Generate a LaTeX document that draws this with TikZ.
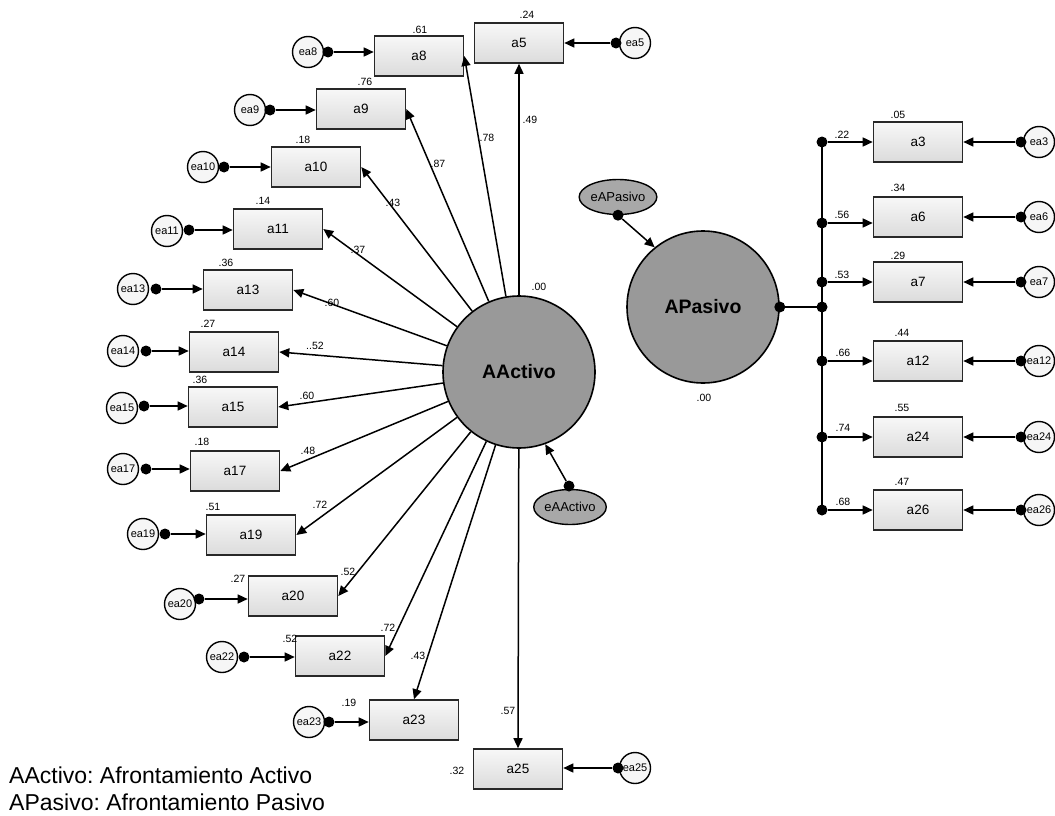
\documentclass[tikz,border=0pt]{standalone}
\usepackage{fontspec}
\setmainfont{Liberation Sans}
\usetikzlibrary{arrows.meta,shapes.geometric,calc}
\definecolor{latentgray}{RGB}{153,153,153}
\definecolor{errfill}{RGB}{246,246,246}
\definecolor{boxline}{RGB}{40,40,40}
\frenchspacing
\begin{document}
\begin{tikzpicture}[x=1pt,y=-1pt,
  obs/.style={draw=boxline, line width=1.6pt, minimum width=89pt, minimum height=40pt,
    inner sep=0pt, top color=white!97!black, bottom color=white!86!black,
    font=\fontsize{13.5}{14}\selectfont},
  err/.style={circle, draw=black, line width=1.4pt, fill=errfill, minimum size=31pt,
    inner sep=0pt, font=\fontsize{11}{12}\selectfont},
  lat/.style={circle, draw=black, line width=1.6pt, fill=latentgray, minimum size=152pt,
    inner sep=0pt, font=\bfseries\fontsize{19.5}{20}\selectfont},
  dist/.style={ellipse, draw=black, line width=1.4pt, fill=latentgray!85!white,
    minimum height=35pt, inner sep=0pt, font=\fontsize{13}{14}\selectfont},
  blob/.style={circle, fill=black, minimum size=11pt, inner sep=0pt},
  load/.style={-{Triangle[length=10pt,width=9pt]}, line width=1.5pt},
  coef/.style={font=\fontsize{10.5}{11}\selectfont, inner sep=0pt},
  legend/.style={anchor=base west, inner sep=0pt, font=\fontsize{23}{25}\selectfont},
]
\useasboundingbox (0,0) rectangle (1055,816);

% latent factors
\node[lat] (AA) at (519,372) {AActivo};
\node[lat] (AP) at (703,307) {APasivo};
\node[coef] (vAA) at (539,287) {.00};
\node[coef] (vAP) at (704,398) {.00};

% disturbances
\node[dist, minimum width=73pt] (eAP) at (618,197) {eAPasivo};
\node[dist, minimum width=64pt] (eAA) at (570,507) {eAActivo};
\node[blob] (deAP) at (eAP.south) {};
\node[blob] (deAA) at (569,486) {};
\draw[load] (deAP) -- (AP.129);
\draw[load] (deAA) -- (AA.-70);

% indicators of AActivo
\node[obs] (a5)  at (519,43)  {a5};
\node[obs] (a8)  at (419,56)  {a8};
\node[obs] (a9)  at (361,109) {a9};
\node[obs] (a10) at (316,167) {a10};
\node[obs] (a11) at (278,229) {a11};
\node[obs] (a13) at (248,290) {a13};
\node[obs] (a14) at (234,352) {a14};
\node[obs] (a15) at (233,407) {a15};
\node[obs] (a17) at (235,471) {a17};
\node[obs] (a19) at (251,535) {a19};
\node[obs] (a20) at (293,596) {a20};
\node[obs] (a22) at (340,656) {a22};
\node[obs] (a23) at (414,720) {a23};
\node[obs] (a25) at (518,769) {a25};

% loadings of AActivo
\draw[load] (AA) -- (a5.south);
\draw[load] (AA) -- (a8.east);
\draw[load] (AA) -- (a9.east);
\draw[load] (AA) -- (a10.east);
\draw[load] (AA) -- (a11.east);
\draw[load] (AA) -- (a13.east);
\draw[load] (AA) -- (a14.east);
\draw[load] (AA) -- (a15.east);
\draw[load] (AA) -- (a17.east);
\draw[load] (AA) -- (a19.east);
\draw[load] (AA) -- (a20.east);
\draw[load] (AA) -- (a22.east);
\draw[load] (AA) -- (a23.north);
\draw[load] (AA) -- (a25.north);

\node[coef] (l5)  at (530,120) {.49};
\node[coef] (l8)  at (487,138) {.78};
\node[coef] (l9)  at (438,164) {.87};
\node[coef] (l10) at (393,203) {.43};
\node[coef] (l11) at (358,250) {.37};
\node[coef] (l13) at (332,303) {.60};
\node[coef] (l14) at (315,346) {..52};
\node[coef] (l15) at (307,396) {.60};
\node[coef] (l17) at (308,451) {.48};
\node[coef] (l19) at (320,505) {.72};
\node[coef] (l20) at (348,572) {.52};
\node[coef] (l22) at (388,628) {.72};
\node[coef] (l23) at (418,656) {.43};
\node[coef] (l25) at (508,711) {.57};

% squared multiple correlations
\node[coef] (r5)  at (527,15)  {.24};
\node[coef] (r8)  at (420,30)  {.61};
\node[coef] (r9)  at (365,82)  {.76};
\node[coef] (r10) at (303,140) {.18};
\node[coef] (r11) at (263,201) {.14};
\node[coef] (r13) at (226,263) {.36};
\node[coef] (r14) at (208,324) {.27};
\node[coef] (r15) at (200,380) {.36};
\node[coef] (r17) at (202,442) {.18};
\node[coef] (r19) at (213,507) {.51};
\node[coef] (r20) at (238,579) {.27};
\node[coef] (r22) at (290,639) {.52};
\node[coef] (r23) at (349,703) {.19};
\node[coef] (r25) at (457,771) {.32};

% measurement errors, left side
\node[err] (ea8)  at (308,52)  {ea8};
\node[err] (ea9)  at (250,110) {ea9};
\node[err] (ea10) at (203,167) {ea10};
\node[err] (ea11) at (167,231) {ea11};
\node[err] (ea13) at (133,289) {ea13};
\node[err] (ea14) at (123,351) {ea14};
\node[err] (ea15) at (122,408) {ea15};
\node[err] (ea17) at (123,469) {ea17};
\node[err] (ea19) at (143,534) {ea19};
\node[err] (ea20) at (180,604) {ea20};
\node[err] (ea22) at (222,657) {ea22};
\node[err] (ea23) at (309,722) {ea23};

\node[blob] (d8)  at (328,52)  {};
\node[blob] (d9)  at (270,110) {};
\node[blob] (d10) at (224,167) {};
\node[blob] (d11) at (189,230) {};
\node[blob] (d13) at (156,289) {};
\node[blob] (d14) at (146,351) {};
\node[blob] (d15) at (144,406) {};
\node[blob] (d17) at (146,469) {};
\node[blob] (d19) at (165,534) {};
\node[blob] (d20) at (199,599) {};
\node[blob] (d22) at (244,657) {};
\node[blob] (d23) at (329,722) {};

\draw[load] (d8)  -- (d8  -| a8.west);
\draw[load] (d9)  -- (d9  -| a9.west);
\draw[load] (d10) -- (d10 -| a10.west);
\draw[load] (d11) -- (d11 -| a11.west);
\draw[load] (d13) -- (d13 -| a13.west);
\draw[load] (d14) -- (d14 -| a14.west);
\draw[load] (d15) -- (d15 -| a15.west);
\draw[load] (d17) -- (d17 -| a17.west);
\draw[load] (d19) -- (d19 -| a19.west);
\draw[load] (d20) -- (d20 -| a20.west);
\draw[load] (d22) -- (d22 -| a22.west);
\draw[load] (d23) -- (d23 -| a23.west);

% measurement errors, right of a5 and a25
\node[err] (ea5)  at (635,43)  {ea5};
\node[err] (ea25) at (635,768) {ea25};
\node[blob] (d5)  at (616,43)  {};
\node[blob] (d25) at (618,768) {};
\draw[load] (d5)  -- (d5  -| a5.east);
\draw[load] (d25) -- (d25 -| a25.east);

% indicators of APasivo
\node[obs] (a3)  at (918,142) {a3};
\node[obs] (a6)  at (918,217) {a6};
\node[obs] (a7)  at (918,282) {a7};
\node[obs] (a12) at (918,361) {a12};
\node[obs] (a24) at (918,437) {a24};
\node[obs] (a26) at (918,510) {a26};

\node[blob] (apd) at (AP.east) {};
\coordinate (J) at (822,307);
\node[blob] (jc)  at (J) {};
\node[blob] (j3)  at (822,142) {};
\node[blob] (j6)  at (822,223) {};
\node[blob] (j7)  at (822,282) {};
\node[blob] (j12) at (822,361) {};
\node[blob] (j24) at (822,437) {};
\node[blob] (j26) at (822,510) {};
\draw[line width=1.5pt] (apd.center) -- (jc.center);
\draw[line width=1.5pt] (j3.center) -- (j26.center);
\draw[load] (j3)  -- (j3  -| a3.west);
\draw[load] (j6)  -- (j6  -| a6.west);
\draw[load] (j7)  -- (j7  -| a7.west);
\draw[load] (j12) -- (j12 -| a12.west);
\draw[load] (j24) -- (j24 -| a24.west);
\draw[load] (j26) -- (j26 -| a26.west);

\node[coef] (l3)  at (842,135) {.22};
\node[coef] (l6)  at (842,215) {.56};
\node[coef] (l7)  at (842,275) {.53};
\node[coef] (l12) at (843,353) {.66};
\node[coef] (l24) at (843,428) {.74};
\node[coef] (l26) at (843,502) {.68};

\node[coef] (r3)  at (898,115) {.05};
\node[coef] (r6)  at (898,188) {.34};
\node[coef] (r7)  at (898,256) {.29};
\node[coef] (r12) at (902,333) {.44};
\node[coef] (r24) at (902,408) {.55};
\node[coef] (r26) at (902,482) {.47};

% measurement errors, right side
\node[err] (ea3)  at (1039,142) {ea3};
\node[err] (ea6)  at (1039,217) {ea6};
\node[err] (ea7)  at (1039,282) {ea7};
\node[err] (ea12) at (1039,361) {ea12};
\node[err] (ea24) at (1039,437) {ea24};
\node[err] (ea26) at (1039,510) {ea26};
\node[blob] (d3)  at (1021,142) {};
\node[blob] (d6)  at (1021,217) {};
\node[blob] (d7)  at (1021,282) {};
\node[blob] (d12) at (1021,361) {};
\node[blob] (d24) at (1021,437) {};
\node[blob] (d26) at (1021,510) {};
\draw[load] (d3)  -- (d3  -| a3.east);
\draw[load] (d6)  -- (d6  -| a6.east);
\draw[load] (d7)  -- (d7  -| a7.east);
\draw[load] (d12) -- (d12 -| a12.east);
\draw[load] (d24) -- (d24 -| a24.east);
\draw[load] (d26) -- (d26 -| a26.east);

% legend
\node[legend] (leg1) at (9,783) {AActivo: Afrontamiento Activo};
\node[legend] (leg2) at (9,810) {APasivo: Afrontamiento Pasivo};
\end{tikzpicture}
\end{document}
